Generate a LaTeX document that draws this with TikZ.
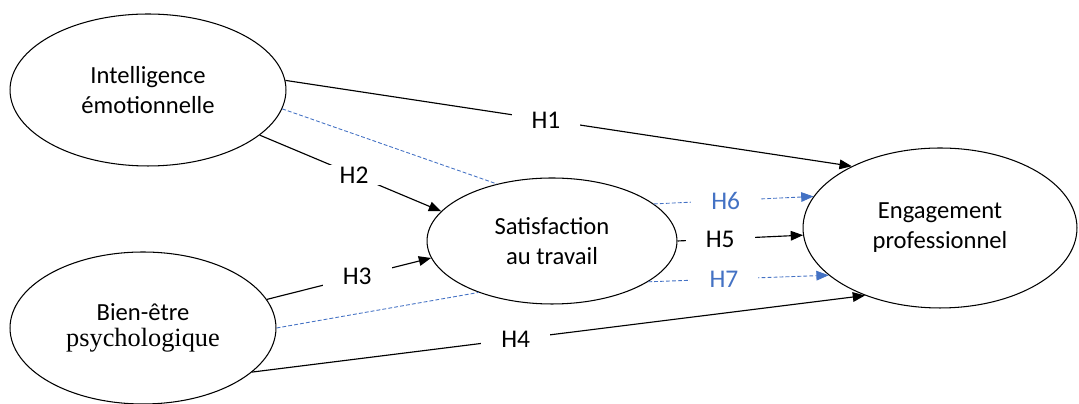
\documentclass[tikz,border=0pt]{standalone}
\usepackage{fontspec}
\setmainfont{Carlito}
\newfontfamily\timesfont{Liberation Serif}
\usetikzlibrary{shapes.geometric,arrows.meta}
\definecolor{hypblue}{HTML}{4472C4}

\begin{document}
\begin{tikzpicture}[
    x=0.02cm, y=-0.02cm,
    construct/.style={ellipse, draw, line width=0.6pt, inner sep=0pt, align=center, font=\fontsize{14}{17}\selectfont},
    arrow/.style={-{Triangle[length=7pt,width=5.5pt]}, line width=0.65pt},
    mediation/.style={hypblue, line width=0.5pt, dash pattern=on 2.2pt off 1.2pt},
    hyp/.style={fill=white, inner xsep=0.4cm, inner ysep=1pt, font=\fontsize{14.5}{17}\selectfont}
]
\useasboundingbox (0,0) rectangle (1079,404);

\node[construct, minimum width=5.52cm, minimum height=3.04cm] (intel) at (148,90) {
    Intelligence\\
    émotionnelle
};

\node[construct, minimum width=5.32cm, minimum height=3.04cm] (bienetre) at (143,328) {
    Bien-être\\[-2pt]
    {\timesfont\fontsize{15}{17}\selectfont psychologique}
};

\node[construct, minimum width=5.0cm, minimum height=2.52cm] (satisf) at (552,241) {
    Satisfaction\\
    au travail
};

\node[construct, minimum width=5.48cm, minimum height=3.2cm] (engage) at (940,228) {
    Engagement\\
    professionnel
};

% Direct effects
\draw[arrow] (intel.4) -- node[hyp, pos=.46] {H1} (engage.145);
\draw[arrow] (intel.-22) -- node[hyp, pos=.52] {H2} (satisf.165);
\draw[arrow] (bienetre.13) -- node[hyp, pos=.55] {H3} (satisf.188);
\draw[arrow] (bienetre.-22) -- node[hyp, pos=.43] {H4} (engage.222);
\draw[arrow] (satisf.0) -- node[hyp, pos=.34] {H5} (engage.183);

% Mediation (dashed)
\draw[mediation] (intel.-8) -- (satisf.134);
\draw[mediation] (bienetre.0) -- (satisf.215);
\draw[mediation, arrow, line width=0.5pt] (satisf.20) -- node[hyp, text=hypblue, pos=.45] {H6} (engage.166);
\draw[mediation, arrow, line width=0.5pt] (satisf.-23) -- node[hyp, text=hypblue, pos=.42] {H7} (engage.203);

\end{tikzpicture}
\end{document}
